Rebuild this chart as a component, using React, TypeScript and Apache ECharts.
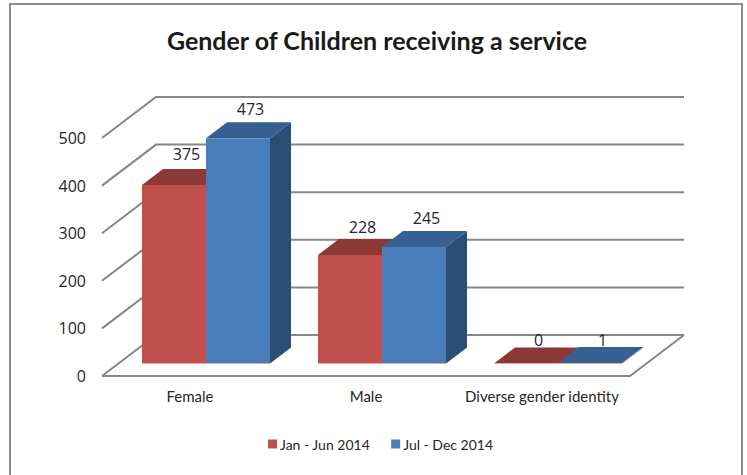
import React, { useEffect, useRef } from "react";
import * as echarts from "echarts";

const categories = ["Female", "Male", "Diverse gender identity"];
const janJun2014 = [375, 228, 0];
const julDec2014 = [473, 245, 1];
const yTicks = [0, 100, 200, 300, 400, 500];
const seriesNames = ["Jan - Jun 2014", "Jul - Dec 2014"];

const FONT = "Lato, Carlito, 'Open Sans', sans-serif";
const NUM_FONT = "'Open Sans', 'Noto Sans', sans-serif";
const TEXT = "#262626";
const WALL = "#868686";
const WALL_DX = 54;
const WALL_DY = -41;
const BAR_W = 64;
const BAR_DX = 21;
const BAR_DY = -16;
const FLOOR_DX = 16;
const FLOOR_DY = -12.5;

const pts = (...p: number[][]) => ({ points: p });

function barRenderer(side: -1 | 1, front: string, top: string, right: string, labelLift: number[]) {
  return (params: any, api: any) => {
    const idx = api.value(0);
    const val = api.value(1);
    const base = api.coord([idx, 0]);
    const head = api.coord([idx, val]);
    const cx = base[0] + FLOOR_DX;
    const x0 = side < 0 ? cx - BAR_W : cx;
    const x1 = x0 + BAR_W;
    const yb = base[1] + FLOOR_DY;
    const yt = head[1] + FLOOR_DY;
    return {
      type: "group",
      children: [
        {
          type: "polygon",
          shape: pts([x1, yt], [x1 + BAR_DX, yt + BAR_DY], [x1 + BAR_DX, yb + BAR_DY], [x1, yb]),
          style: { fill: right },
        },
        {
          type: "polygon",
          shape: pts([x0, yt], [x0 + BAR_DX, yt + BAR_DY], [x1 + BAR_DX, yt + BAR_DY], [x1, yt]),
          style: { fill: top },
        },
        ...(yb - yt > 0.5
          ? [{ type: "rect", shape: { x: x0, y: yt, width: BAR_W, height: yb - yt }, style: { fill: front } }]
          : []),
        {
          type: "line",
          shape: { x1: x0, y1: yb, x2: x1, y2: yb },
          style: { stroke: "#e5a9a6", lineWidth: 1 },
        },
        {
          type: "text",
          z2: 10,
          style: {
            text: String(val),
            x: (x0 + x1) / 2 + BAR_DX / 2 + 2,
            y: yt + BAR_DY - labelLift[idx],
            align: "center",
            verticalAlign: "middle",
            fontFamily: NUM_FONT,
            fontSize: 16,
            fill: TEXT,
          },
        },
      ],
    };
  };
}

function wallRenderer(params: any, api: any) {
  const y = api.coord([0, api.value(1)])[1];
  const left = params.coordSys.x;
  const right = left + params.coordSys.width;
  const isFloor = api.value(1) === 0;
  const style = { stroke: WALL, lineWidth: 2, fill: "none" };
  const children: any[] = [
    {
      type: "polyline",
      shape: pts([left, y], [left + WALL_DX, y + WALL_DY], [right + WALL_DX, y + WALL_DY]),
      style,
    },
  ];
  if (isFloor) {
    children.push({
      type: "polyline",
      shape: pts([right + WALL_DX, y + WALL_DY], [right, y], [left, y]),
      style,
    });
  }
  return { type: "group", children };
}

export default function App() {
  const ref = useRef<HTMLDivElement>(null);
  useEffect(() => {
    document.body.style.margin = "0";
    const chart = echarts.init(ref.current!, undefined, { renderer: "svg" });
    chart.setOption({
      animation: false,
      backgroundColor: "#ffffff",
      title: {
        text: "Gender of Children receiving a service",
        left: 372,
        top: 22,
        textAlign: "center",
        textStyle: { fontFamily: FONT, fontSize: 25, fontWeight: "bold", color: "#1a1a1a" },
      },
      legend: {
        left: 263,
        top: 432,
        icon: "rect",
        itemWidth: 9,
        itemHeight: 9,
        itemGap: 21,
        data: seriesNames,
        textStyle: { fontFamily: FONT, fontSize: 14, color: TEXT, padding: [0, 0, 0, -2] },
      },
      grid: { left: 102, top: 138, width: 528, height: 238 },
      xAxis: {
        type: "category",
        data: categories,
        axisLine: { show: false },
        axisTick: { show: false },
        axisLabel: { interval: 0, hideOverlap: false, fontFamily: FONT, fontSize: 15, color: TEXT, margin: 12 },
      },
      yAxis: {
        type: "value",
        min: 0,
        max: 500,
        interval: 100,
        axisLine: { show: false },
        axisTick: { show: false },
        splitLine: { show: false },
        axisLabel: { fontFamily: NUM_FONT, fontSize: 16, color: TEXT, margin: 16, padding: [2, 0, 0, 0] },
      },
      graphic: [
        {
          type: "rect",
          z: -1,
          silent: true,
          shape: { x: 10, y: 4, width: 732, height: 480 },
          style: { fill: "none", stroke: "#8c8c8c", lineWidth: 2 },
        },
      ],
      series: [
        {
          type: "custom",
          name: "walls",
          silent: true,
          z: 1,
          renderItem: wallRenderer,
          data: yTicks.map((t) => [0, t]),
        },
        {
          type: "custom",
          name: seriesNames[0],
          z: 2,
          itemStyle: { color: "#C0504D" },
          renderItem: barRenderer(-1, "#C0504D", "#8C3836", "#8C3836", [15, 12, 8]),
          data: janJun2014.map((v, i) => [i, v]),
        },
        {
          type: "custom",
          name: seriesNames[1],
          z: 3,
          itemStyle: { color: "#4A7EBB" },
          renderItem: barRenderer(1, "#4A7EBB", "#366092", "#2C4D75", [13, 13, 7]),
          data: julDec2014.map((v, i) => [i, v]),
        },
      ],
    });
    return () => chart.dispose();
  }, []);
  return <div ref={ref} style={{ width: 747, height: 475 }} />;
}
